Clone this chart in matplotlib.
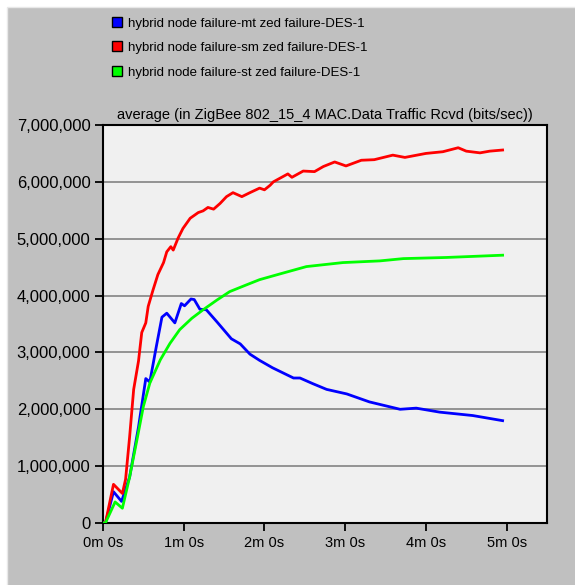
import numpy as np
from matplotlib import pyplot as plt
from matplotlib.patches import Rectangle
from matplotlib.ticker import FuncFormatter

# time in minutes, traffic in bits/sec
mt_time = [0, 0.03, 0.13, 0.23, 0.33, 0.44, 0.53, 0.58, 0.66, 0.73, 0.79, 0.89, 0.97, 1.01,
           1.09, 1.13, 1.20, 1.28, 1.41, 1.59, 1.70, 1.82, 1.94, 2.10, 2.23, 2.36, 2.44, 2.60,
           2.77, 3.02, 3.30, 3.68, 3.88, 4.17, 4.58, 4.95]
mt_value = [0, 0, 0.55, 0.38, 0.81, 1.69, 2.54, 2.48, 3.10, 3.62, 3.69, 3.52, 3.86, 3.82,
            3.94, 3.93, 3.76, 3.75, 3.54, 3.24, 3.15, 2.97, 2.86, 2.73, 2.64, 2.55, 2.55, 2.45,
            2.35, 2.27, 2.13, 2.00, 2.02, 1.95, 1.89, 1.80]

sm_time = [0, 0.03, 0.13, 0.24, 0.28, 0.33, 0.38, 0.44, 0.48, 0.53, 0.56, 0.62, 0.68, 0.75,
           0.79, 0.84, 0.87, 0.93, 0.99, 1.08, 1.18, 1.24, 1.30, 1.37, 1.45, 1.53, 1.61, 1.72,
           1.82, 1.94, 2.00, 2.07, 2.11, 2.29, 2.34, 2.48, 2.62, 2.73, 2.87, 3.01, 3.20, 3.36,
           3.59, 3.74, 4.00, 4.21, 4.40, 4.50, 4.67, 4.79, 4.95]
sm_value = [0, 0, 0.68, 0.52, 0.77, 1.52, 2.35, 2.85, 3.35, 3.52, 3.81, 4.10, 4.37, 4.58,
            4.77, 4.86, 4.80, 5.01, 5.18, 5.36, 5.46, 5.49, 5.55, 5.52, 5.62, 5.74, 5.81, 5.74,
            5.81, 5.89, 5.86, 5.94, 6.00, 6.14, 6.08, 6.19, 6.18, 6.27, 6.35, 6.28, 6.38, 6.39,
            6.47, 6.43, 6.50, 6.53, 6.60, 6.54, 6.51, 6.54, 6.56]

st_time = [0, 0.03, 0.15, 0.24, 0.33, 0.42, 0.50, 0.58, 0.71, 0.83, 0.95, 1.10, 1.24, 1.41,
           1.57, 1.78, 1.94, 2.19, 2.52, 2.97, 3.43, 3.72, 4.25, 4.95]
st_value = [0, 0, 0.37, 0.26, 0.81, 1.46, 2.05, 2.46, 2.87, 3.16, 3.40, 3.60, 3.75, 3.92,
            4.07, 4.19, 4.28, 4.38, 4.51, 4.58, 4.61, 4.65, 4.67, 4.71]

labels = ['hybrid node failure-mt zed failure-DES-1',
          'hybrid node failure-sm zed failure-DES-1',
          'hybrid node failure-st zed failure-DES-1']
colors = ['#0000ff', '#ff0000', '#00ff00']
x_ticks = [0, 1, 2, 3, 4, 5]
y_ticks = [0, 1e6, 2e6, 3e6, 4e6, 5e6, 6e6, 7e6]

plt.rcParams['font.family'] = ['Liberation Sans', 'DejaVu Sans']

fig = plt.figure(figsize=(5.75, 5.85), dpi=100, facecolor='white')
fig.patches.append(Rectangle((7 / 575, -0.01), 1, 1.01 - 7 / 585, transform=fig.transFigure,
                             facecolor='#c0c0c0', edgecolor='#e8e8e8', lw=1, zorder=-10))

ax = fig.add_axes([103 / 575, 62 / 585, 444 / 575, 398 / 585])
ax.set_facecolor('#f0f0f0')

series = [(mt_time, mt_value), (sm_time, sm_value), (st_time, st_value)]
for (t, v), c, lab in zip(series, colors, labels):
    ax.plot(t, np.array(v) * 1e6, color=c, lw=2.0, label=lab, zorder=3)

ax.set_xlim(0, 5.5)
ax.set_ylim(0, 7e6)
ax.set_xticks(x_ticks)
ax.set_yticks(y_ticks)
ax.xaxis.set_major_formatter(FuncFormatter(lambda t, p: '%dm 0s' % int(round(t))))
ax.yaxis.set_major_formatter(FuncFormatter(lambda v, p: '{:,.0f}'.format(v)))
ax.tick_params(direction='out', length=6, width=1.3, labelsize=10.5, colors='black')
ax.tick_params(axis='y', labelsize=12, pad=3)
ax.grid(axis='y', color='#8c8c8c', lw=1.3)
ax.set_axisbelow(True)
for s in ax.spines.values():
    s.set_linewidth(1.5)
    s.set_color('black')

ax.set_title('average (in ZigBee 802_15_4 MAC.Data Traffic Rcvd (bits/sec))',
             fontsize=10.5, pad=4)

handles = [Rectangle((0, 0), 1, 1, facecolor=c, edgecolor='black', lw=1) for c in colors]
fig.legend(handles, labels, loc='upper left', bbox_to_anchor=(100 / 575, 1 - 5 / 585),
           frameon=False, fontsize=9.5, handlelength=0.8, handleheight=0.8,
           handletextpad=0.45, labelspacing=0.9)

fig.savefig('out.png', dpi=100, facecolor=fig.get_facecolor())
